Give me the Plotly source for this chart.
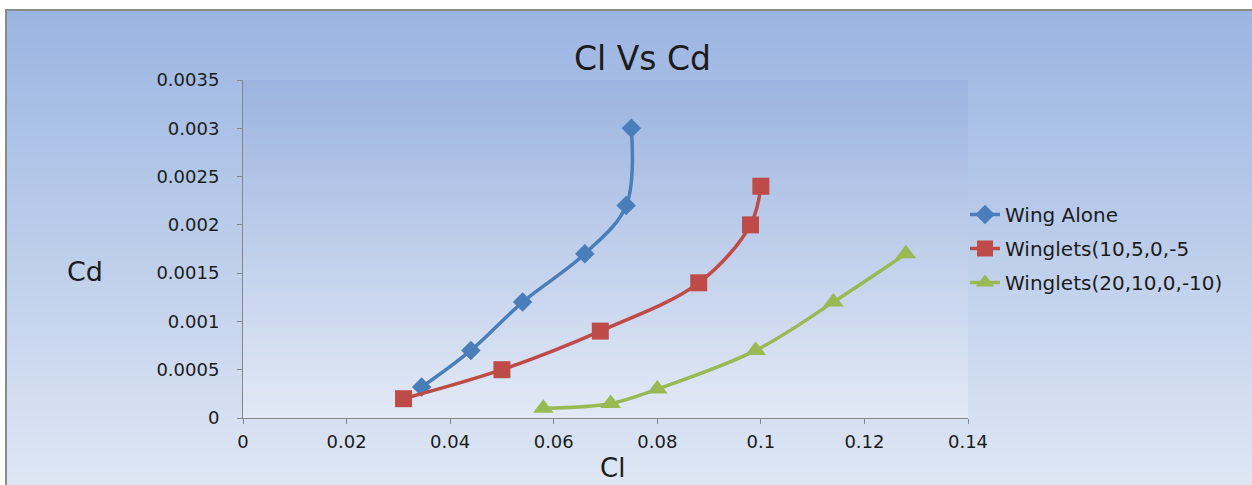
import plotly.graph_objects as go

# Series data (Cl on x, Cd on y)
wing_alone_cl = [0.0345, 0.044, 0.054, 0.066, 0.074, 0.075]
wing_alone_cd = [0.00032, 0.0007, 0.0012, 0.0017, 0.0022, 0.003]

winglets_a_cl = [0.031, 0.050, 0.069, 0.088, 0.098, 0.100]
winglets_a_cd = [0.0002, 0.0005, 0.0009, 0.0014, 0.002, 0.0024]

winglets_b_cl = [0.058, 0.071, 0.080, 0.099, 0.114, 0.128]
winglets_b_cd = [0.0001, 0.00015, 0.0003, 0.0007, 0.0012, 0.0017]

series_names = ["Wing Alone", "Winglets(10,5,0,-5", "Winglets(20,10,0,-10)"]

x_tickvals = [0, 0.02, 0.04, 0.06, 0.08, 0.1, 0.12, 0.14]
x_ticktext = ["0", "0.02", "0.04", "0.06", "0.08", "0.1", "0.12", "0.14"]
y_tickvals = [0, 0.0005, 0.001, 0.0015, 0.002, 0.0025, 0.003, 0.0035]
y_ticktext = ["0", "0.0005", "0.001", "0.0015", "0.002", "0.0025", "0.003", "0.0035"]

W, H = 1252, 485
PLOT_L, PLOT_R, PLOT_T, PLOT_B = 243, 968, 80, 418
FONT = "DejaVu Sans"
TEXT_COLOR = "#1c1c1c"


def fx(px):
    """pixel x -> paper fraction"""
    return px / W


def fy(py):
    """pixel y (from top) -> paper fraction"""
    return 1 - py / H


def lerp_rgb(c0, c1, t):
    return "rgb(%d,%d,%d)" % tuple(round(a + (b - a) * t) for a, b in zip(c0, c1))


def gradient_strips(x0, x1, y_top, y_bot, c_top, c_bot, step=4):
    shapes = []
    y = y_top
    while y < y_bot:
        y2 = min(y + step, y_bot)
        t = (y - y_top) / max(1, (y_bot - y_top))
        col = lerp_rgb(c_top, c_bot, t)
        shapes.append(dict(type="rect", xref="paper", yref="paper", layer="below",
                           x0=x0, x1=x1, y0=fy(y2 + 0.5), y1=fy(y),
                           fillcolor=col, line=dict(width=0)))
        y = y2
    return shapes


shapes = []
# chart area background
shapes += gradient_strips(fx(6), 1.01, 10, H + 2, (155, 181, 226), (223, 231, 244))
# plot area background
shapes += gradient_strips(fx(PLOT_L), fx(PLOT_R), PLOT_T, PLOT_B, (157, 180, 224), (227, 234, 246))
# chart area border
shapes.append(dict(type="rect", xref="paper", yref="paper", layer="below",
                   x0=fx(6), x1=1.05, y0=-0.05, y1=fy(10),
                   fillcolor="rgba(0,0,0,0)", line=dict(color="#8a8a8a", width=2)))

fig = go.Figure()

styles = [
    (wing_alone_cl, wing_alone_cd, "#4a7ebb", "diamond", 15),
    (winglets_a_cl, winglets_a_cd, "#be4b48", "square", 17),
    (winglets_b_cl, winglets_b_cd, "#98b954", "triangle-up", 18),
]
for i, (xs, ys, color, symbol, size) in enumerate(styles):
    fig.add_trace(go.Scatter(
        x=xs, y=ys, name=series_names[i], legendgroup=str(i),
        mode="lines+markers",
        line=dict(color=color, width=3.5, shape="spline", smoothing=1),
        marker=dict(color=color, symbol=symbol, size=size, line=dict(width=0)),
    ))

axis_common = dict(
    automargin=False,
    showgrid=False, zeroline=False, showline=True, linecolor="#868686", linewidth=1,
    ticks="outside", ticklen=5, tickcolor="#868686",
    tickfont=dict(family=FONT, size=18, color=TEXT_COLOR),
)

fig.update_layout(
    width=W, height=H,
    margin=dict(l=0, r=0, t=0, b=0, autoexpand=False),
    paper_bgcolor="white",
    plot_bgcolor="rgba(0,0,0,0)",
    shapes=shapes,
    xaxis=dict(domain=[fx(PLOT_L), fx(PLOT_R)], range=[0, 0.14],
               tickvals=x_tickvals, ticktext=x_ticktext, ticklabelstandoff=2,
               **axis_common),
    yaxis=dict(domain=[fy(PLOT_B), fy(PLOT_T)], range=[0, 0.0035],
               tickvals=y_tickvals, ticktext=y_ticktext, ticklabelstandoff=14,
               **axis_common),
    showlegend=True,
    legend=dict(x=fx(965), y=fy(195), xanchor="left", yanchor="top",
                bgcolor="rgba(0,0,0,0)", tracegroupgap=5,
                font=dict(family=FONT, size=20, color=TEXT_COLOR)),
    annotations=[
        dict(text="Cl Vs Cd", x=fx(642), y=fy(58), xref="paper", yref="paper",
             showarrow=False, xanchor="center", yanchor="middle",
             font=dict(family=FONT, size=33, color=TEXT_COLOR)),
        dict(text="Cd", x=fx(85), y=fy(271), xref="paper", yref="paper",
             showarrow=False, xanchor="center", yanchor="middle",
             font=dict(family=FONT, size=27, color=TEXT_COLOR)),
        dict(text="Cl", x=fx(612), y=fy(485), xref="paper", yref="paper",
             showarrow=False, xanchor="center", yanchor="bottom",
             font=dict(family=FONT, size=26, color=TEXT_COLOR)),
    ],
)

fig.write_html("out.html")
